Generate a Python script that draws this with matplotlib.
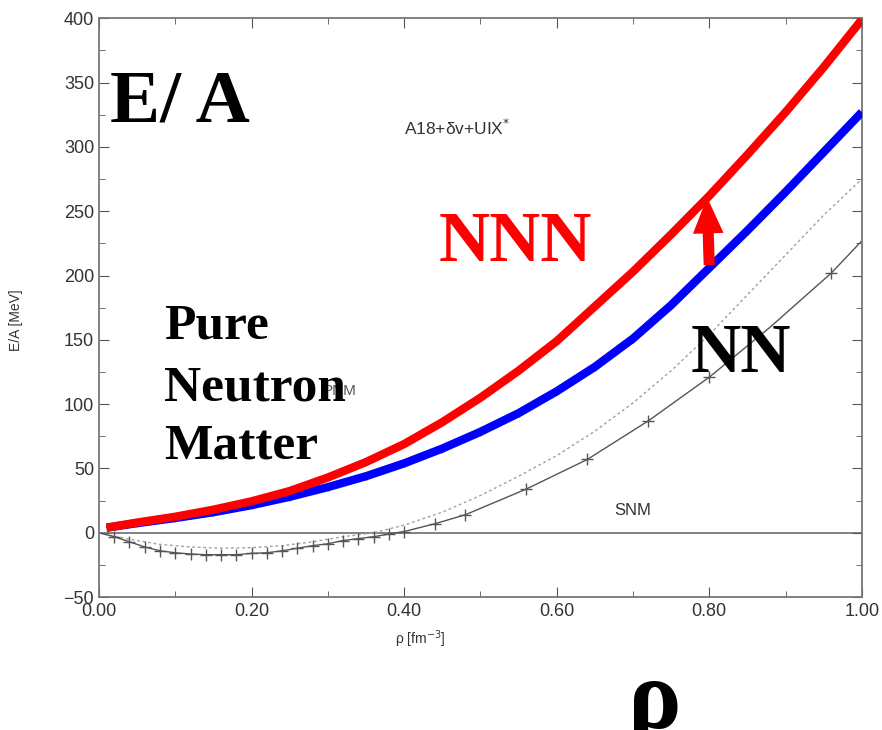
import numpy as np
import matplotlib
matplotlib.use("Agg")
import matplotlib.pyplot as plt

# density grid for the thick curves
rho = [0.01, 0.05, 0.10, 0.15, 0.20, 0.25, 0.30, 0.35, 0.40, 0.45, 0.50,
       0.55, 0.60, 0.65, 0.70, 0.75, 0.80, 0.85, 0.90, 0.95, 1.00]
e_nnn = [4, 8, 12.5, 18, 24.5, 32.5, 43, 55, 69, 86, 105,
         126, 149, 176, 203, 232, 262, 294, 327, 362, 399]
e_nn = [4, 7.5, 11.5, 16, 21.5, 28, 35.5, 44, 54, 65.5, 78.5,
        93, 110, 129, 151, 177, 206, 235, 265, 296, 327]

# thin gray curves of the original figure
rho_dot = [0.00, 0.04, 0.08, 0.12, 0.16, 0.20, 0.24, 0.28, 0.32, 0.36, 0.40,
           0.45, 0.50, 0.55, 0.60, 0.65, 0.70, 0.75, 0.80, 0.85, 0.90, 0.95, 1.00]
e_dot = [0, -5, -9, -11, -12, -11.5, -10, -7, -3, 0, 6,
         16, 29, 44, 60, 79, 101, 126, 154, 185, 216, 247, 275]

rho_snm = [0.00, 0.02, 0.04, 0.06, 0.08, 0.10, 0.12, 0.14, 0.16, 0.18, 0.20,
           0.22, 0.24, 0.26, 0.28, 0.30, 0.32, 0.34, 0.36, 0.38, 0.40,
           0.44, 0.48, 0.56, 0.64, 0.72, 0.80, 0.88, 0.96, 1.00]
e_snm = [0, -3, -7, -11, -14, -15.5, -16.5, -17, -17, -17, -16,
         -15.5, -14, -12, -10, -8.5, -6, -4.5, -3, -1, 1,
         7, 14, 34, 57, 87, 121, 160, 202, 227]
snm_marks = [i for i in range(1, len(rho_snm) - 1) if rho_snm[i] != 0.88]

x_ticks = [0.0, 0.2, 0.4, 0.6, 0.8, 1.0]
x_ticklabels = ["0.00", "0.20", "0.40", "0.60", "0.80", "1.00"]
y_ticks = [-50, 0, 50, 100, 150, 200, 250, 300, 350, 400]


def main():
    plt.rcParams['font.family'] = ['Liberation Sans', 'DejaVu Sans']
    fig = plt.figure(figsize=(8.82, 7.30), dpi=100)
    ax = fig.add_axes([0.1122, 0.182, 0.865, 0.793])

    ax.axhline(0, color='#777777', lw=1.3, zorder=1)

    ax.plot(rho_dot, e_dot, color='#a0a0a0', lw=1.0, linestyle=(0, (2, 2)), zorder=2)
    ax.plot(rho_snm, e_snm, color='#555555', lw=1.0, marker='+', markersize=9,
            markevery=snm_marks, markeredgewidth=1.0, zorder=2)
    ax.plot(rho, e_nn, color='#888888', lw=0.8, marker='|', markersize=6, zorder=2)

    ax.plot(rho, e_nn, color='#0000ff', lw=6.0, solid_capstyle='butt',
            solid_joinstyle='round', zorder=3)
    ax.plot(rho, e_nnn, color='#ff0000', lw=6.0, solid_capstyle='butt',
            solid_joinstyle='round', zorder=4)

    ax.annotate("", xy=(0.797, 263), xytext=(0.800, 206),
                arrowprops=dict(arrowstyle='simple,head_length=1.3,head_width=1.1,tail_width=0.4',
                                color='#ff0000', lw=0, mutation_scale=20),
                zorder=5)

    ax.set_xlim(0, 1.0)
    ax.set_ylim(-50, 400)
    ax.set_xticks(x_ticks)
    ax.set_xticklabels(x_ticklabels)
    ax.set_yticks(y_ticks)
    ax.set_xticks(np.arange(0.1, 1.0, 0.2), minor=True)
    ax.set_yticks(np.arange(-25, 400, 50), minor=True)
    ax.tick_params(which='both', direction='in', top=True, right=True,
                   color='#555555', labelcolor='#333333', labelsize=13)
    ax.tick_params(which='major', length=7)
    ax.tick_params(which='minor', length=4)
    ax.tick_params(axis='x', pad=4)
    for s in ax.spines.values():
        s.set_color('#777777')
        s.set_linewidth(1.3)

    fig.text(0.476, 0.124, "ρ [fm$^{-3}$]", ha='center', va='center',
             fontsize=10, color='#333333')
    fig.text(0.018, 0.562, "E/A [MeV]", ha='center', va='center',
             rotation=90, fontsize=10, color='#333333')

    ax.text(0.469, 315, "A18+δv+UIX$^{*}$", ha='center', va='center',
            fontsize=12.5, color='#333333')
    ax.text(0.315, 110, "PNM", ha='center', va='center', fontsize=11, color='#555555')
    ax.text(0.700, 17, "SNM", ha='center', va='center', fontsize=12, color='#333333')

    serif = ['Liberation Serif', 'DejaVu Serif']
    ax.text(0.015, 334, "E/ A", ha='left', va='center', fontsize=54,
            fontweight='bold', family=serif, color='black')
    ax.text(0.445, 225, "NNN", ha='left', va='center', fontsize=51,
            fontweight='bold', family=serif, color='#ff0000')
    ax.text(0.775, 138, "NN", ha='left', va='center', fontsize=50,
            fontweight='bold', family=serif, color='black')
    ax.text(0.085, 160, "Pure", ha='left', va='center', fontsize=37,
            fontweight='bold', family=serif, color='black')
    ax.text(0.085, 112, "Neutron", ha='left', va='center', fontsize=37,
            fontweight='bold', family=serif, color='black')
    ax.text(0.085, 67, "Matter", ha='left', va='center', fontsize=37,
            fontweight='bold', family=serif, color='black')

    fig.text(0.742, 0.035, "ρ", ha='center', va='center', fontsize=72,
             fontweight='bold', family=serif, color='black')

    fig.savefig("out.png", dpi=100)


if __name__ == "__main__":
    main()
